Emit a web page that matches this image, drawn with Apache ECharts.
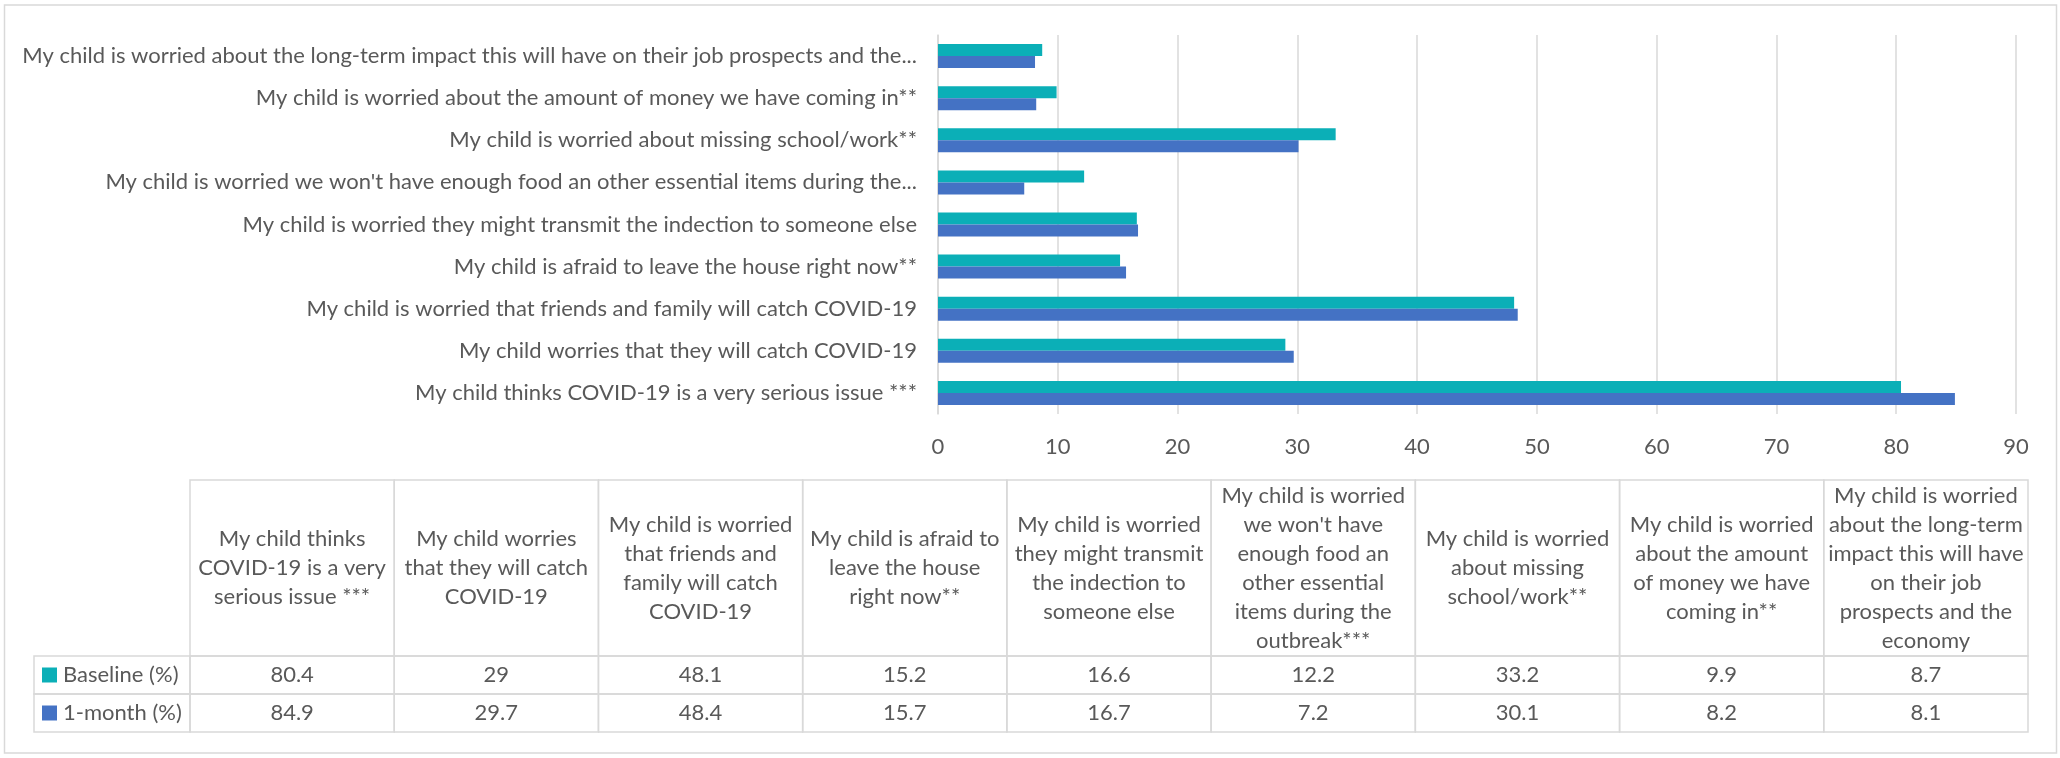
<!DOCTYPE html>
<html>
<head>
<meta charset="utf-8">
<script src="https://cdn.jsdelivr.net/npm/echarts@6/dist/echarts.min.js"></script>
<style>
  html, body { margin: 0; padding: 0; background: #fff; }
  #chart { width: 2060px; height: 758px; }
</style>
</head>
<body>
<div id="chart"></div>
<script>
// 数据
var axisLabels = [
	'My child thinks COVID-19 is a very serious issue ***',
	'My child worries that they will catch COVID-19',
	'My child is worried that friends and family will catch COVID-19',
	'My child is afraid to leave the house right now**',
	'My child is worried they might transmit the indection to someone else',
	"My child is worried we won't have enough food an other essential items during the...",
	'My child is worried about missing school/work**',
	'My child is worried about the amount of money we have coming in**',
	'My child is worried about the long-term impact this will have on their job prospects and the...'
];
var tableHeaders = [
	'My child thinks\nCOVID-19 is a very\nserious issue ***',
	'My child worries\nthat they will catch\nCOVID-19',
	'My child is worried\nthat friends and\nfamily will catch\nCOVID-19',
	'My child is afraid to\nleave the house\nright now**',
	'My child is worried\nthey might transmit\nthe indection to\nsomeone else',
	"My child is worried\nwe won't have\nenough food an\nother essential\nitems during the\noutbreak***",
	'My child is worried\nabout missing\nschool/work**',
	'My child is worried\nabout the amount\nof money we have\ncoming in**',
	'My child is worried\nabout the long-term\nimpact this will have\non their job\nprospects and the\neconomy'
];
var seriesNames = ['Baseline (%)', '1-month (%)'];
var baseline = [80.4, 29, 48.1, 15.2, 16.6, 12.2, 33.2, 9.9, 8.7];
var oneMonth = [84.9, 29.7, 48.4, 15.7, 16.7, 7.2, 30.1, 8.2, 8.1];
var xTicks = [0, 90, 10]; // min, max, interval

var colors = ['#0bafb7', '#4472c4'];
var txt = '#595959';
var lineCol = '#d9d9d9';
var font = 'Lato';

var myChart = echarts.init(document.getElementById('chart'));

var headerData = tableHeaders.map(function (t, i) { return [i, 0]; });
var cellData = [];
baseline.forEach(function (v, i) { cellData.push([i, 0, v]); });
oneMonth.forEach(function (v, i) { cellData.push([i, 1, v]); });

var option = {
	animation: false,
	textStyle: { fontFamily: font },
	graphic: [{
		type: 'rect',
		shape: { x: 4.5, y: 5, width: 2052, height: 748 },
		style: { fill: 'none', stroke: lineCol, lineWidth: 1.5 },
		z: -1
	}],
	grid: [
		{ left: 938, right: 44, top: 35, bottom: 344 },
		{ left: 190, right: 32, top: 480, height: 176 },
		{ left: 190, right: 32, top: 656, height: 76 }
	],
	xAxis: [
		{
			type: 'value', gridIndex: 0,
			min: xTicks[0], max: xTicks[1], interval: xTicks[2],
			axisLine: { show: false },
			axisTick: { show: false },
			splitLine: { lineStyle: { color: lineCol, width: 1.5 } },
			axisLabel: { color: txt, fontSize: 22, fontFamily: font, margin: 22 }
		},
		{ type: 'category', gridIndex: 1, data: tableHeaders.map(function (t, i) { return i; }), show: false },
		{ type: 'category', gridIndex: 2, data: tableHeaders.map(function (t, i) { return i; }), show: false }
	],
	yAxis: [
		{
			type: 'category', gridIndex: 0,
			data: axisLabels,
			axisLine: { lineStyle: { color: lineCol, width: 1.5 } },
			axisTick: { show: false },
			axisLabel: { color: txt, fontSize: 22, fontFamily: font, margin: 21 }
		},
		{ type: 'category', gridIndex: 1, data: ['h'], show: false },
		{ type: 'category', gridIndex: 2, data: seriesNames, inverse: true, show: false }
	],
	series: [
		{
			name: seriesNames[0], type: 'bar', xAxisIndex: 0, yAxisIndex: 0,
			data: baseline, barWidth: 12, barGap: '0%',
			itemStyle: { color: colors[0] }
		},
		{
			name: seriesNames[1], type: 'bar', xAxisIndex: 0, yAxisIndex: 0,
			data: oneMonth, barWidth: 12, barGap: '0%',
			itemStyle: { color: colors[1] }
		},
		{
			// 表头
			type: 'custom', xAxisIndex: 1, yAxisIndex: 1,
			data: headerData,
			renderItem: function (params, api) {
				var c = api.coord([api.value(0), api.value(1)]);
				var s = api.size([1, 1]);
				return {
					type: 'group',
					children: [{
						type: 'rect',
						shape: { x: c[0] - s[0] / 2, y: c[1] - s[1] / 2, width: s[0], height: s[1] },
						style: { fill: 'none', stroke: lineCol, lineWidth: 1.5 }
					}, {
						type: 'text',
						x: c[0], y: c[1],
						style: {
							text: tableHeaders[params.dataIndex],
							align: 'center', verticalAlign: 'middle',
							fill: txt, font: '22px ' + font, lineHeight: 29
						}
					}]
				};
			}
		},
		{
			// 数值
			type: 'custom', xAxisIndex: 2, yAxisIndex: 2,
			data: cellData,
			renderItem: function (params, api) {
				var c = api.coord([api.value(0), api.value(1)]);
				var s = api.size([1, 1]);
				return {
					type: 'group',
					children: [{
						type: 'rect',
						shape: { x: c[0] - s[0] / 2, y: c[1] - s[1] / 2, width: s[0], height: s[1] },
						style: { fill: 'none', stroke: lineCol, lineWidth: 1.5 }
					}, {
						type: 'text',
						x: c[0], y: c[1],
						style: {
							text: String(api.value(2)),
							align: 'center', verticalAlign: 'middle',
							fill: txt, font: '22px ' + font
						}
					}]
				};
			}
		},
		{
			// 图例列
			type: 'custom', xAxisIndex: 2, yAxisIndex: 2,
			data: [[0, 0], [0, 1]],
			renderItem: function (params, api) {
				var c = api.coord([api.value(0), api.value(1)]);
				var s = api.size([1, 1]);
				var x0 = params.coordSys.x - 156;
				var y0 = c[1] - s[1] / 2;
				return {
					type: 'group',
					children: [{
						type: 'rect',
						shape: { x: x0, y: y0, width: 156, height: s[1] },
						style: { fill: 'none', stroke: lineCol, lineWidth: 1.5 }
					}, {
						type: 'rect',
						shape: { x: x0 + 8, y: c[1] - 7.5, width: 15, height: 15 },
						style: { fill: colors[params.dataIndex] }
					}, {
						type: 'text',
						x: x0 + 29, y: c[1],
						style: {
							text: seriesNames[params.dataIndex],
							align: 'left', verticalAlign: 'middle',
							fill: txt, font: '22px ' + font
						}
					}]
				};
			}
		}
	]
};

myChart.setOption(option);
window.onresize = myChart.resize;
</script>
</body>
</html>
